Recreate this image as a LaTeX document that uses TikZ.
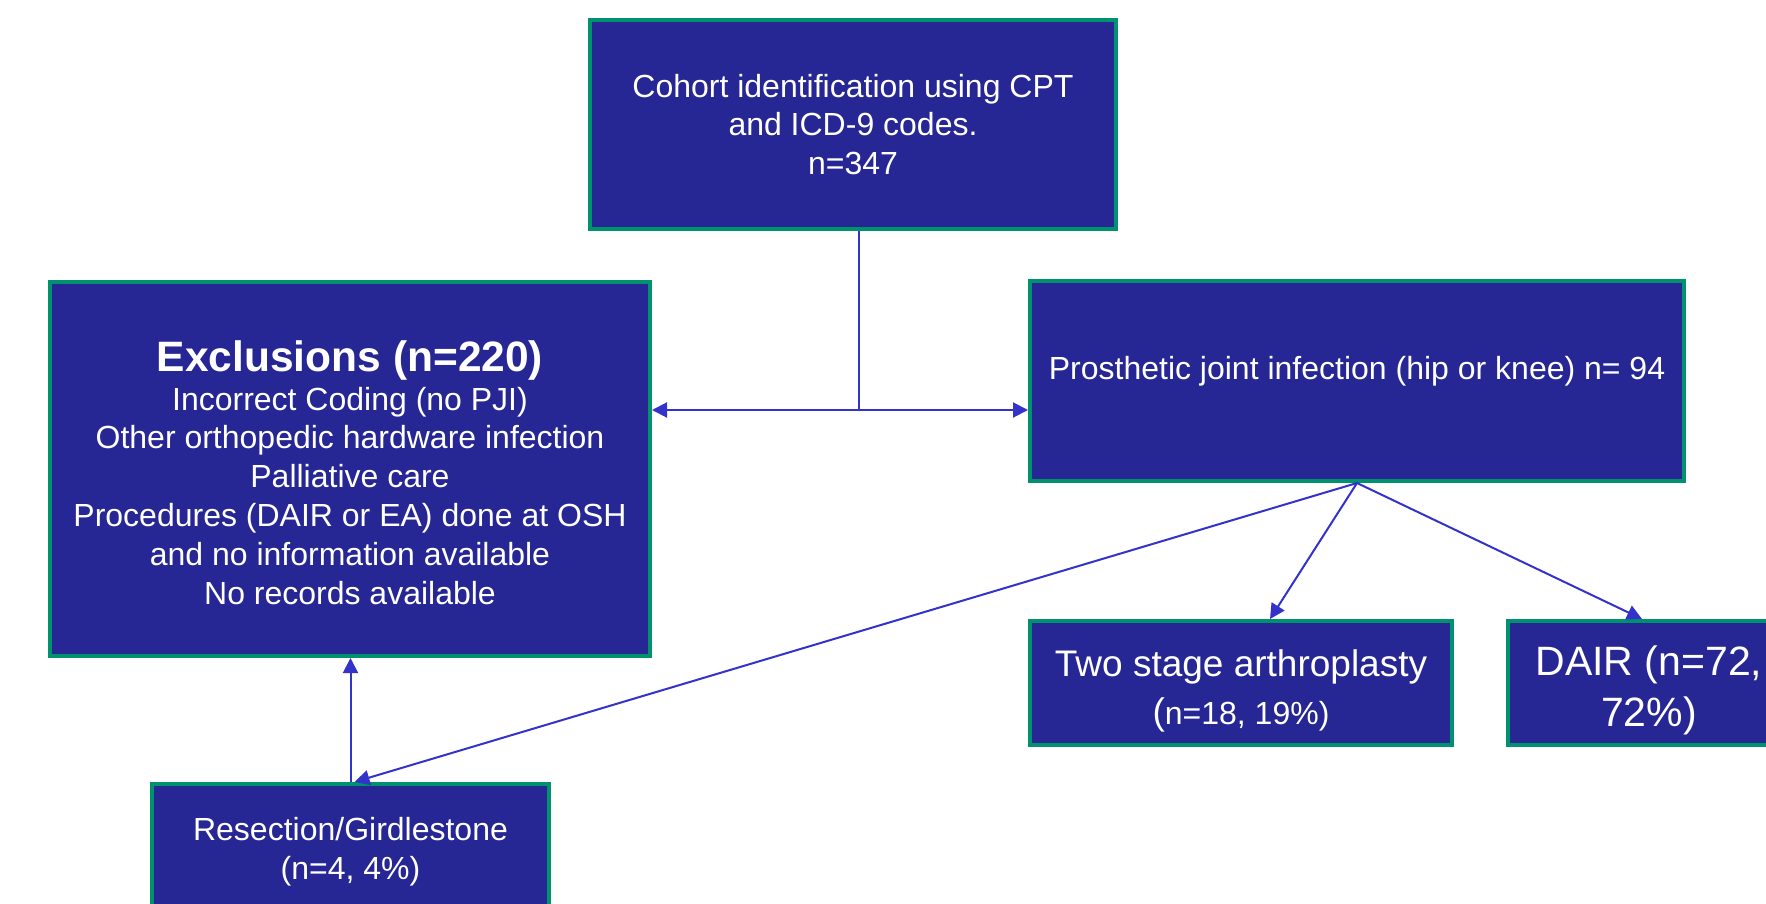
\documentclass[tikz,border=0pt]{standalone}
\usepackage{fontspec}
\setmainfont{Liberation Sans}
\usetikzlibrary{arrows.meta,calc}
\definecolor{boxfill}{RGB}{38,38,148}
\definecolor{boxline}{RGB}{0,146,110}
\definecolor{connblue}{RGB}{51,51,204}
\begin{document}
\begin{tikzpicture}[x=1pt,y=-1pt,
  box/.style={draw=boxline, line width=4pt, fill=boxfill, text=white, inner sep=0pt, align=center},
  body/.style={font=\fontsize{32}{38.5}\selectfont},
  boxtext/.style={text=white, inner sep=0pt, align=center},
  link/.style={draw=connblue, line width=2pt},
  arrow/.style={link, -{Triangle[length=15pt,width=15pt]}}]
\useasboundingbox (0,0) rectangle (1766,904);
\clip (0,0) rectangle (1766,904);
\fill[white] (0,0) rectangle (1766,904);

\node[box, body, minimum width=526pt, minimum height=209pt] (cohort) at (853,124.5)
  {Cohort identification using CPT\\and ICD-9 codes.\\n=347};

\node[box, minimum width=600pt, minimum height=374pt] (excl) at (350,469) {};
\node[boxtext, font=\fontsize{32}{38.8}\selectfont] (excltext) at ($(excl.center)+(0,3.5)$)
  {{\fontsize{42.5}{50}\selectfont\bfseries Exclusions (n=220)}\\
   Incorrect Coding (no PJI)\\Other orthopedic hardware infection\\Palliative care\\
   Procedures (DAIR or EA) done at OSH\\and no information available\\No records available};

\node[box, minimum width=654pt, minimum height=200pt] (pji) at (1357,381) {};
\node[boxtext, body] (pjitext) at ($(pji.center)+(0,-9.5)$)
  {Prosthetic joint infection (hip or knee) n= 94};

\node[box, minimum width=422pt, minimum height=124pt] (two) at (1241,683) {};
\node[boxtext, body] (twotext) at ($(two.center)+(0,8)$)
  {{\fontsize{37}{44}\selectfont Two stage arthroplasty}\\[9.5pt]
   {\fontsize{37}{44}\selectfont(}n=18, 19\%)};

\node[box, minimum width=282pt, minimum height=124pt] (dair) at (1649,683) {};
\node[boxtext, font=\fontsize{41}{51}\selectfont] (dairtext) at ($(dair.center)+(0,7)$)
  {DAIR (n=72,\\72\%)};

\node[box, body, minimum width=397pt, minimum height=135pt] (res) at (350.5,851.5)
  {Resection/Girdlestone\\(n=4, 4\%)};

\coordinate (split) at (859,410);
\draw[link] (split |- cohort.south) -- (split);
\draw[arrow] (split) -- (split -| excl.east);
\draw[arrow] (split) -- (split -| pji.west);
\draw[arrow] (pji.south) -- ($(two.north)+(29,0)$);
\draw[arrow] (pji.south) -- ($(dair.north)+(-7,0)$);
\draw[arrow] (pji.south) -- ($(res.north)+(4,0)$);
\draw[arrow] (res.north) -- (res.north |- excl.south);
\end{tikzpicture}
\end{document}
